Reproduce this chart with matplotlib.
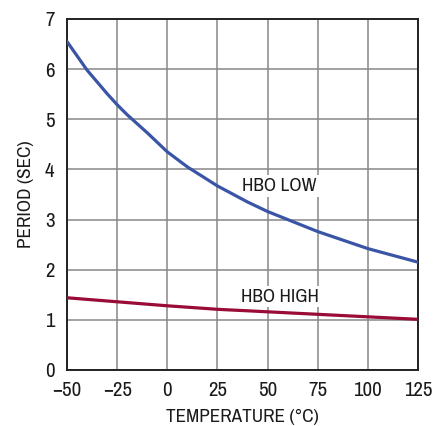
import matplotlib
matplotlib.use("Agg")
import matplotlib.pyplot as plt
from matplotlib import font_manager

# temperature (C) and period (sec)
temp_low = [-50, -40, -30, -25, -20, -10, 0, 10, 25, 40, 50, 75, 100, 125]
period_low = [6.55, 5.98, 5.51, 5.29, 5.09, 4.73, 4.35, 4.05, 3.67, 3.35, 3.16, 2.76, 2.42, 2.15]
temp_high = [-50, -25, 0, 25, 50, 75, 100, 125]
period_high = [1.44, 1.36, 1.28, 1.21, 1.16, 1.11, 1.06, 1.01]

xticks = [-50, -25, 0, 25, 50, 75, 100, 125]
xticklabels = ["\u221250", "\u221225", "0", "25", "50", "75", "100", "125"]
yticks = [0, 1, 2, 3, 4, 5, 6, 7]

# look for a narrow/condensed face, the original uses one
fam = "Roboto"
stretch = "normal"
for f in font_manager.fontManager.ttflist:
    if "Narrow" in f.name or "Condensed" in f.name:
        fam = f.name
        break
else:
    for f in font_manager.fontManager.ttflist:
        if "condensed" in str(f.stretch):
            fam = f.name
            stretch = f.stretch
            break
plt.rcParams['font.family'] = [fam, 'DejaVu Sans']
plt.rcParams['font.stretch'] = stretch

fig = plt.figure(figsize=(4.35, 4.26), dpi=100)
ax = fig.add_axes([0.154, 0.1315, 0.807, 0.824])

ax.plot(temp_low, period_low, color='#3a55a5', lw=2.3, zorder=3)
ax.plot(temp_high, period_high, color='#9a0b38', lw=2.3, zorder=3)

ax.set_xlim(-50, 125)
ax.set_ylim(0, 7)
ax.set_xticks(xticks)
ax.set_xticklabels(xticklabels)
ax.set_yticks(yticks)
ax.tick_params(length=0, labelsize=15, colors='#1a1a1a')
ax.tick_params(axis='x', pad=8)
ax.tick_params(axis='y', pad=9)
ax.grid(True, color='#888888', lw=1.1)
ax.set_axisbelow(True)
for s in ax.spines.values():
    s.set_linewidth(1.4)
    s.set_color('#222222')

ax.set_xlabel("TEMPERATURE (\u00b0C)", fontsize=13.8, color='#1a1a1a', labelpad=6)
ax.set_ylabel("PERIOD (SEC)", fontsize=13.8, color='#1a1a1a', labelpad=8)

box = dict(facecolor='white', edgecolor='none', pad=2)
ax.text(56, 3.67, "HBO LOW", fontsize=13.8, ha='center', va='center', bbox=box, zorder=2, color='#1a1a1a')
ax.text(56, 1.46, "HBO HIGH", fontsize=13.8, ha='center', va='center', bbox=box, zorder=2, color='#1a1a1a')

plt.savefig('out.png', dpi=100)
